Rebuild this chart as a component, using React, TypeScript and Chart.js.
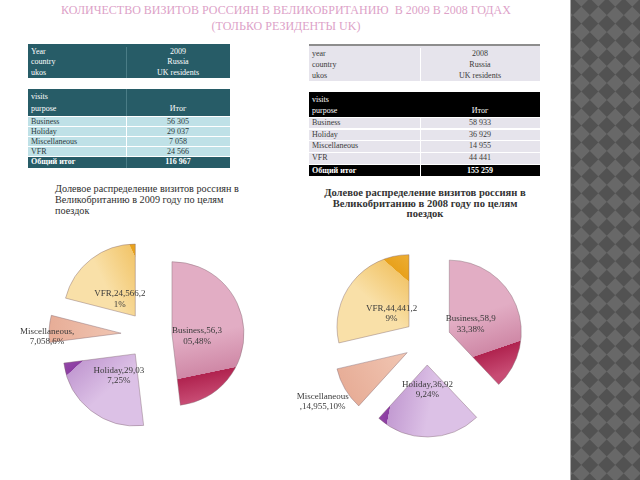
import React, { useEffect, useRef } from "react";
import { Chart, registerables } from "chart.js";

Chart.register(...registerables);

// ---------- data ----------
const purposes = ["Business", "Holiday", "Miscellaneous", "VFR"];
const visits2009 = [56305, 29037, 7058, 24566];
const visits2008 = [58933, 36929, 14955, 44441];
const total2009 = "116 967";
const total2008 = "155 259";
const labels2009 = [
  ["Business,56,3", "05,48%"],
  ["Holiday,29,03", "7,25%"],
  ["Miscellaneous,", "7,058,6%"],
  ["VFR,24,566,2", "1%"],
];
const labels2008 = [
  ["Business,58,9", "33,38%"],
  ["Holiday,36,92", "9,24%"],
  ["Miscellaneous", ",14,955,10%"],
  ["VFR,44,441,2", "9%"],
];
const info2009 = [
  ["Year", "2009"],
  ["country", "Russia"],
  ["ukos", "UK residents"],
];
const info2008 = [
  ["year", "2008"],
  ["country", "Russia"],
  ["ukos", "UK residents"],
];
const titleLines = [
  "КОЛИЧЕСТВО ВИЗИТОВ РОССИЯН В ВЕЛИКОБРИТАНИЮ  В 2009 В 2008 ГОДАХ",
  "(ТОЛЬКО РЕЗИДЕНТЫ UK)",
];
const chartTitle2009 = [
  "Долевое распределение визитов россиян в",
  "Великобританию в 2009 году по целям",
  "поездок",
];
const chartTitle2008 = [
  "Долевое распределение визитов россиян в",
  "Великобританию в 2008 году по целям",
  "поездок",
];

// ---------- styles ----------
const SERIF = '"Liberation Serif", "Times New Roman", serif';
type Shade = { light: string; mid: string; dark1: string; dark2: string };
const shades: Shade[] = [
  { light: "#e2adc4", mid: "#cf88a6", dark1: "#b0234f", dark2: "#c84c74" },
  { light: "#dcc1e6", mid: "#c39bd2", dark1: "#8c3da2", dark2: "#9d55b2" },
  { light: "#f1c6b3", mid: "#e7ad97", dark1: "#e7ad97", dark2: "#e7ad97" },
  { light: "#f9e0a8", mid: "#f2c66c", dark1: "#e8a11c", dark2: "#eeb13a" },
];

const fmt = (v: number) => String(v).replace(/\B(?=(\d{3})+(?!\d))/g, " ");

type PieProps = {
  values: number[];
  lines: string[][];
  left: number;
  top: number;
  width: number;
  height: number;
  radius: number;
  explode: number[];
  labelDist: number[];
  labelNudge: number[][];
  chord: number[][];
  fontSize: number;
};

function Pie(p: PieProps) {
  const ref = useRef<HTMLCanvasElement>(null);
  useEffect(() => {
    const canvas = ref.current!;
    const total = p.values.reduce((a, b) => a + b, 0);
    const R = p.radius;

    const fill = (c: any) => {
      const chart = c.chart;
      const i = c.dataIndex;
      const s = shades[i];
      const area = chart.chartArea;
      if (!area) return s.light;
      let cum = 0;
      for (let k = 0; k < i; k++) cum += p.values[k];
      const a0 = -Math.PI / 2 + (cum / total) * 2 * Math.PI;
      const a1 = a0 + (p.values[i] / total) * 2 * Math.PI;
      const mid = (a0 + a1) / 2;
      const ox = (area.left + area.right) / 2 + Math.cos(mid) * p.explode[i];
      const oy = (area.top + area.bottom) / 2 + Math.sin(mid) * p.explode[i];
      const ctx: CanvasRenderingContext2D = chart.ctx;
      const [a, b] = p.chord[i];
      if (a <= 0) {
        const g = ctx.createLinearGradient(
          ox + Math.cos(mid) * R, oy + Math.sin(mid) * R, ox, oy);
        g.addColorStop(0, s.mid);
        g.addColorStop(1, s.light);
        return g;
      }
      const p1x = ox + Math.cos(a1) * a * R, p1y = oy + Math.sin(a1) * a * R;
      const ang2 = a1 - b * (a1 - a0);
      const p2x = ox + Math.cos(ang2) * R, p2y = oy + Math.sin(ang2) * R;
      let nx = -(p2y - p1y), ny = p2x - p1x;
      const len = Math.hypot(nx, ny) || 1;
      nx /= len; ny /= len;
      const ex = ox + Math.cos(a1) * R, ey = oy + Math.sin(a1) * R;
      if ((ex - p1x) * nx + (ey - p1y) * ny < 0) { nx = -nx; ny = -ny; }
      const mx = (p1x + p2x) / 2, my = (p1y + p2y) / 2;
      const back = R * 1.1, fwd = R * 0.35;
      const g = ctx.createLinearGradient(mx - nx * back, my - ny * back, mx + nx * fwd, my + ny * fwd);
      const t = back / (back + fwd);
      g.addColorStop(0, s.light);
      g.addColorStop(t * 0.5, s.light);
      g.addColorStop(t - 0.003, s.mid);
      g.addColorStop(t, s.dark1);
      g.addColorStop(1, s.dark2);
      return g;
    };

    const piePlugin = {
      id: "pieExtras",
      afterDatasetUpdate(chart: any, args: any) {
        args.meta.data.forEach((arc: any, i: number) => {
          const mid = (arc.startAngle + arc.endAngle) / 2;
          arc.x += Math.cos(mid) * p.explode[i];
          arc.y += Math.sin(mid) * p.explode[i];
        });
      },
      afterDatasetsDraw(chart: any) {
        const ctx: CanvasRenderingContext2D = chart.ctx;
        const meta = chart.getDatasetMeta(0);
        ctx.save();
        ctx.font = `${p.fontSize}px ${SERIF}`;
        ctx.fillStyle = "#3a3a3a";
        ctx.textAlign = "center";
        ctx.textBaseline = "middle";
        const lh = p.fontSize + 1.2;
        meta.data.forEach((arc: any, i: number) => {
          const mid = (arc.startAngle + arc.endAngle) / 2;
          const d = arc.outerRadius * p.labelDist[i];
          const cx = arc.x + Math.cos(mid) * d + p.labelNudge[i][0];
          const cy = arc.y + Math.sin(mid) * d + p.labelNudge[i][1];
          const ls = p.lines[i];
          ls.forEach((t, k) => ctx.fillText(t, cx, cy + (k - (ls.length - 1) / 2) * lh));
        });
        ctx.restore();
      },
    };

    const chart = new Chart(canvas, {
      type: "pie",
      data: {
        labels: purposes,
        datasets: [
          {
            data: p.values,
            backgroundColor: fill,
            borderColor: "rgba(130,105,115,0.55)",
            borderWidth: 0.8,
            radius: R,
          } as any,
        ],
      },
      options: {
        animation: false,
        responsive: false,
        maintainAspectRatio: false,
        events: [],
        layout: { padding: 0 },
        plugins: { legend: { display: false }, tooltip: { enabled: false }, title: { display: false } },
      },
      plugins: [piePlugin],
    });
    return () => chart.destroy();
  }, []);
  return (
    <canvas
      ref={ref}
      width={p.width}
      height={p.height}
      style={{ position: "absolute", left: p.left, top: p.top, width: p.width, height: p.height }}
    />
  );
}

type RowProps = {
  left: number; top: number; width: number; height: number; split: number;
  bg: string; color: string; a: string; b: string; bold?: boolean; divider?: string;
};
function Row(r: RowProps) {
  return (
    <div style={{ position: "absolute", left: r.left, top: r.top, width: r.width, height: r.height, background: r.bg }}>
      <div style={{ position: "absolute", left: 3, top: 0, lineHeight: r.height + "px", fontSize: 8, color: r.color, fontWeight: r.bold ? "bold" : "normal", whiteSpace: "nowrap" }}>{r.a}</div>
      <div style={{ position: "absolute", left: r.split, width: r.width - r.split, top: 0, textAlign: "center", lineHeight: r.height + "px", fontSize: 8, color: r.color, fontWeight: r.bold ? "bold" : "normal", whiteSpace: "nowrap" }}>{r.b}</div>
      {r.divider && <div style={{ position: "absolute", left: r.split, top: 0, width: 1, height: r.height, background: r.divider }} />}
    </div>
  );
}

export default function App() {
  const TEAL = "#275c67";
  const TEAL_LIGHT = "#bfe1e7";
  const LAV = "#e6e4ec";
  return (
    <div style={{ position: "fixed", left: 0, top: 0, width: 640, height: 480, background: "#ffffff", overflow: "hidden", fontFamily: SERIF }}>
      {/* main title */}
      <div style={{ position: "absolute", left: 0, top: 2, width: 572, textAlign: "center", color: "#dda2c8", fontSize: 12, lineHeight: "16px", whiteSpace: "pre" }}>
        {titleLines.map((t, i) => <div key={i}>{t}</div>)}
      </div>

      {/* table 2009 */}
      <div style={{ position: "absolute", left: 28, top: 44, width: 202, height: 34, background: TEAL }} />
      {info2009.map((r, i) => (
        <Row key={i} left={28} top={47 + i * 10.3} width={202} height={10.3} split={98} bg="transparent" color="#ffffff" a={r[0]} b={r[1]} divider="#4a7c86" />
      ))}
      <div style={{ position: "absolute", left: 28, top: 89, width: 202, height: 27, background: TEAL }} />
      <div style={{ position: "absolute", left: 126, top: 89, width: 1, height: 27, background: "#4a7c86" }} />
      <div style={{ position: "absolute", left: 31, top: 92, fontSize: 8, color: "#fff", lineHeight: "10px" }}>visits</div>
      <Row left={28} top={104} width={202} height={10} split={98} bg="transparent" color="#ffffff" a="purpose" b="Итог" />
      {purposes.map((c, i) => (
        <Row key={c} left={28} top={116.5 + i * 10.1} width={202} height={9.3} split={98} bg={TEAL_LIGHT} color="#2d3b3e" a={c} b={fmt(visits2009[i])} divider="#ffffff" />
      ))}
      <Row left={28} top={157} width={202} height={10.5} split={98} bg={TEAL} color="#ffffff" a="Общий итог" b={total2009} bold divider="#4a7c86" />

      {/* table 2008 */}
      <div style={{ position: "absolute", left: 309, top: 44, width: 231, height: 37, background: LAV, borderTop: "2px solid #8d8d8d", boxSizing: "border-box" }} />
      {info2008.map((r, i) => (
        <Row key={i} left={309} top={47.5 + i * 11} width={231} height={11} split={111} bg="transparent" color="#3a3a3a" a={r[0]} b={r[1]} divider="#ffffff" />
      ))}
      <div style={{ position: "absolute", left: 309, top: 92, width: 231, height: 25, background: "#000000" }} />
      <div style={{ position: "absolute", left: 312, top: 95, fontSize: 8, color: "#fff", lineHeight: "10px" }}>visits</div>
      <Row left={309} top={106} width={231} height={10} split={111} bg="transparent" color="#ffffff" a="purpose" b="Итог" />
      {purposes.map((c, i) => (
        <Row key={c} left={309} top={117.8 + i * 11.7} width={231} height={10.7} split={111} bg={LAV} color="#3a3a3a" a={c} b={fmt(visits2008[i])} divider="#ffffff" />
      ))}
      <Row left={309} top={164.5} width={231} height={11} split={111} bg="#000000" color="#ffffff" a="Общий итог" b={total2008} bold divider="#ffffff" />

      {/* chart titles */}
      <div style={{ position: "absolute", left: 55, top: 184, fontSize: 10.2, lineHeight: "10.8px", color: "#2e2e2e", fontWeight: "normal", whiteSpace: "nowrap" }}>
        {chartTitle2009.map((t, i) => <div key={i}>{t}</div>)}
      </div>
      <div style={{ position: "absolute", left: 300, width: 250, top: 188, fontSize: 10.6, lineHeight: "10.7px", color: "#333", fontWeight: "bold", textAlign: "center", whiteSpace: "nowrap" }}>
        {chartTitle2008.map((t, i) => <div key={i}>{t}</div>)}
      </div>

      {/* pies */}
      <Pie values={visits2009} lines={labels2009} left={10} top={225} width={280} height={220} radius={72}
        explode={[22, 24, 29, 24]} labelDist={[0.35, 0.37, 1.03, 0.35]}
        labelNudge={[[0, 4], [0, 1], [0, 8], [0, 3]]}
        chord={[[0.64, 0.32], [0.74, 0.11], [0, 0], [0.83, 0.06]]} fontSize={9} />
      <Pie values={visits2008} lines={labels2008} left={287} top={231} width={280} height={220} radius={72}
        explode={[24, 24, 23, 23]} labelDist={[0.32, 0.33, 1.36, 0.31]}
        labelNudge={[[0, 0.5], [0, 0.5], [0, -0.5], [0, 0.5]]}
        chord={[[0.48, 0.29], [0.77, 0.09], [0, 0], [0.63, 0.2]]} fontSize={9} />

      {/* side panel */}
      <div style={{ position: "absolute", left: 570, top: 0, width: 70, height: 480, overflow: "hidden", background: "#5c5c5c", borderLeft: "1px solid #a8a8a8", boxSizing: "border-box" }}>
        <div style={{ position: "absolute", left: -230, top: -60, width: 540, height: 600, transform: "rotate(45deg)", background: "repeating-conic-gradient(#525252 0% 25%, #686868 0% 50%) 0 0 / 24px 24px" }} />
      </div>
    </div>
  );
}
